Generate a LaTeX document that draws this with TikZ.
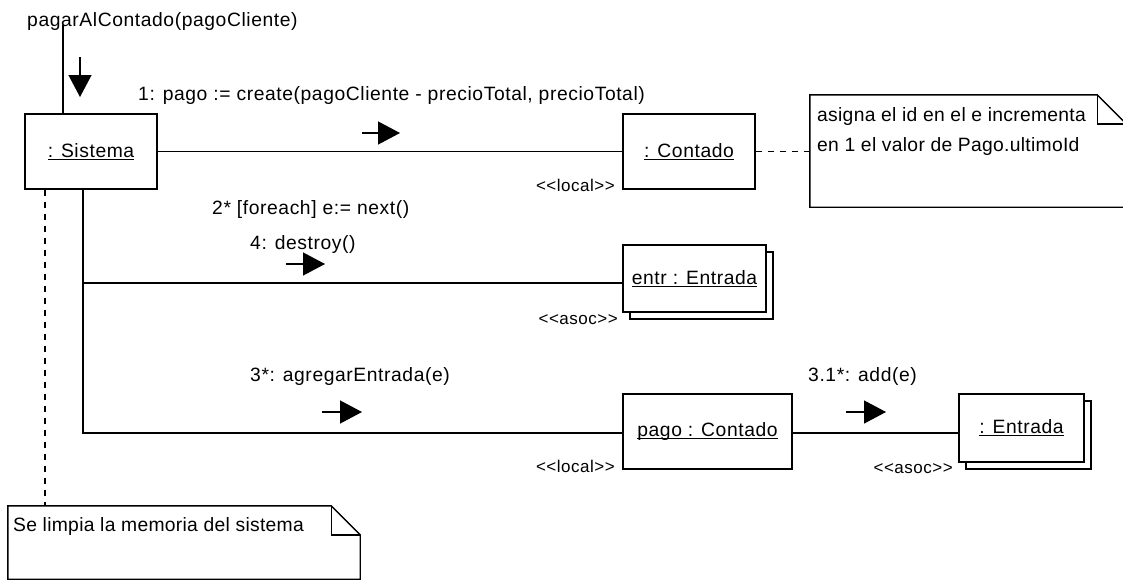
\documentclass[tikz,border=0pt]{standalone}
\usepackage{fontspec}
\setmainfont{Liberation Sans}[Ligatures=TeXOff,LetterSpace=3]
\usetikzlibrary{arrows.meta,shadows,calc}

% underlined object name (line through the descenders, UML style)
\newcommand\objname[1]{\begingroup\setbox0\hbox{#1}\rlap{\copy0}\rule[-2.2pt]{\wd0}{0.9pt}\endgroup}

\tikzset{
  lbl/.style={font=\fontsize{19.3}{23}\selectfont, inner sep=0pt},
  notetext/.style={font=\fontsize{19.3}{23}\selectfont\addfontfeature{LetterSpace=1.5}, inner sep=0pt, anchor=base west},
  stereo/.style={font=\fontsize{17}{20}\selectfont, inner sep=0pt, anchor=base east},
  obj/.style={draw, line width=1.4pt, fill=white, inner sep=0pt,
              font=\fontsize{19.3}{23}\selectfont},
  multiobj/.style={obj, copy shadow={shadow xshift=7pt, shadow yshift=-7pt,
              draw=black, fill=white, line width=1.4pt}},
  link/.style={line width=1.3pt},
  notelink/.style={line width=1.3pt, dash pattern=on 6pt off 6pt},
  notebox/.style={line width=1.4pt, fill=white},
  msg/.style={line width=1.3pt, -{Triangle[length=22pt,width=23pt]}},
}

\begin{document}
\begin{tikzpicture}[x=1pt,y=-1pt]
\useasboundingbox (0,0) rectangle (1123,581);

% ---- objects ----
\node[obj, minimum width=132pt, minimum height=75pt] (sis) at (91,151.5) {\objname{: Sistema}};
\node[obj, minimum width=132pt, minimum height=75pt] (cont) at (689,151.5) {\objname{: Contado}};
\node[multiobj, minimum width=143pt, minimum height=67pt] (entr) at (694.5,278.5) {\objname{entr : Entrada}};
\node[obj, minimum width=169pt, minimum height=75pt] (pago) at (707.5,431.5) {\objname{pago : Contado}};
\node[multiobj, minimum width=125pt, minimum height=68pt] (ent2) at (1021.5,428) {\objname{: Entrada}};

% ---- notes ----
\node[minimum width=316pt, minimum height=112pt, inner sep=0pt] (n1) at (968,151) {};
\draw[notebox] (n1.north west) -- ([xshift=-29pt]n1.north east) -- ([yshift=-29pt]n1.north east)
  -- (n1.south east) -- (n1.south west) -- cycle;
\draw[line width=1.4pt] ([xshift=-29pt]n1.north east) |- ([yshift=-29pt]n1.north east);
\node[notetext] (n1a) at (817,121) {asigna el id en el e incrementa};
\node[notetext] (n1b) at (817,151) {en 1 el valor de Pago.ultimoId};

\node[minimum width=352pt, minimum height=73pt, inner sep=0pt] (n2) at (184,542.5) {};
\draw[notebox] (n2.north west) -- ([xshift=-29pt]n2.north east) -- ([yshift=-29pt]n2.north east)
  -- (n2.south east) -- (n2.south west) -- cycle;
\draw[line width=1.4pt] ([xshift=-29pt]n2.north east) |- ([yshift=-29pt]n2.north east);
\node[notetext] (n2a) at (13,531) {Se limpia la memoria del sistema};

% ---- links ----
\coordinate (entry) at (63,25);
\draw[link] (entry) -- (entry |- sis.north);
\draw[link] (sis.east) -- (cont.west);
\draw[link] ([xshift=-8pt]sis.south) |- ([yshift=-4.5pt]entr.west);
\draw[link] ([xshift=-8pt]sis.south) |- ([yshift=-1.5pt]pago.west);
\draw[link] ([yshift=-1.5pt]pago.east) -- ([yshift=-1.5pt]pago.east -| ent2.west);
\draw[notelink] (cont.east) -- (cont.east -| n1.west);
\draw[notelink] ([xshift=-46pt]sis.south) -- ([xshift=-46pt]sis.south |- n2.north);

% ---- message labels ----
\node[lbl, anchor=base west] (m0) at (27,26) {pagarAlContado(pagoCliente)};
\node[lbl, anchor=base west] (m1) at (138,100) {1: pago := create(pagoCliente - precioTotal, precioTotal)};
\node[lbl, anchor=base west] (m2) at (212,214) {2* [foreach] e:= next()};
\node[lbl, anchor=base west] (m4) at (250,249) {4: destroy()};
\node[lbl, anchor=base west] (m3) at (250,381) {3*: agregarEntrada(e)};
\node[lbl, anchor=base west] (m31) at (808,381) {3.1*: add(e)};

% ---- message direction arrows ----
\coordinate (a0s) at (80,57);  \coordinate (a0e) at (80,97);
\coordinate (a1s) at (362,133); \coordinate (a1e) at (400,133);
\coordinate (a4s) at (286,264); \coordinate (a4e) at (325,264);
\coordinate (a3s) at (322,412); \coordinate (a3e) at (362,412);
\coordinate (a31s) at (846,412); \coordinate (a31e) at (886,412);
\draw[msg] (a0s) -- (a0e);
\draw[msg] (a1s) -- (a1e);
\draw[msg] (a4s) -- (a4e);
\draw[msg] (a3s) -- (a3e);
\draw[msg] (a31s) -- (a31e);

% ---- stereotypes ----
\node[stereo] (s1) at (615,191) {<<local>>};
\node[stereo] (s2) at (618,324) {<<asoc>>};
\node[stereo] (s3) at (615,472) {<<local>>};
\node[stereo] (s4) at (953,473) {<<asoc>>};
\end{tikzpicture}
\end{document}
